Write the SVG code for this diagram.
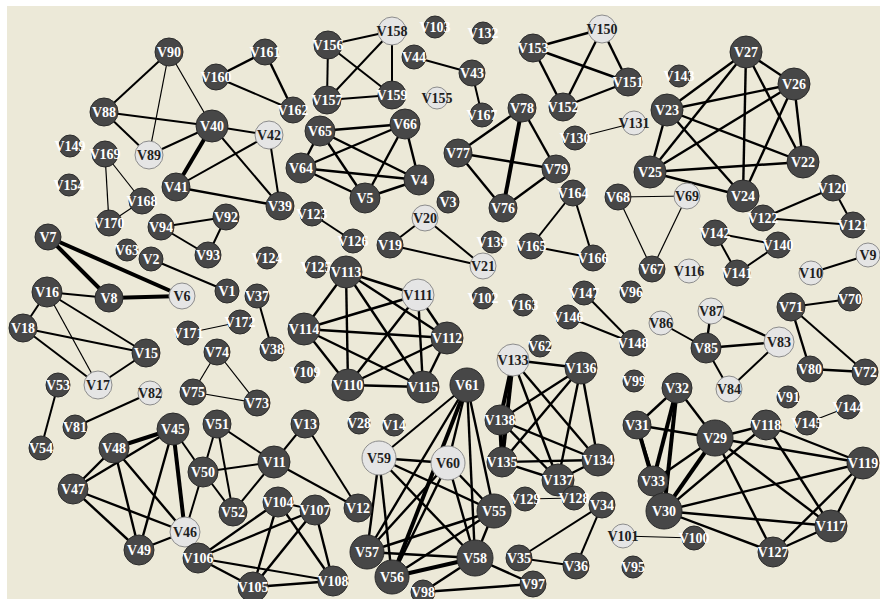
<svg xmlns="http://www.w3.org/2000/svg" width="880" height="599" viewBox="0 0 880 599">
<style>
.d circle{fill:#474747;stroke:#2b2b2b;stroke-width:1}
.l circle{fill:#e5e5e5;stroke:#8c8c8c;stroke-width:1}
text{font-family:"Liberation Serif","Times New Roman",serif;font-weight:bold;font-size:14px;text-anchor:middle;dominant-baseline:central}
.d text{fill:#ffffff}
.l text{fill:#1e1e1e}
#edges line{stroke:#000;stroke-width:2}
#edges line.m{stroke-width:2.4}
#edges line.k{stroke-width:4}
#edges line.t{stroke-width:1.2}
</style>
<rect x="0" y="0" width="880" height="599" fill="#ffffff"/>
<rect x="7" y="6" width="873" height="593" fill="#ece9d8"/>
<g id="edges">
<line x1="169" y1="52" x2="104" y2="112"/>
<line x1="169" y1="52" x2="149" y2="155" class="t"/>
<line x1="169" y1="52" x2="212" y2="126" class="t"/>
<line x1="104" y1="112" x2="212" y2="126"/>
<line x1="104" y1="112" x2="149" y2="155"/>
<line x1="149" y1="155" x2="212" y2="126"/>
<line x1="212" y1="126" x2="176" y2="187" class="k"/>
<line x1="212" y1="126" x2="280" y2="206"/>
<line x1="212" y1="126" x2="269" y2="135"/>
<line x1="269" y1="135" x2="176" y2="187"/>
<line x1="176" y1="187" x2="280" y2="206" class="m"/>
<line x1="269" y1="135" x2="280" y2="206"/>
<line x1="105" y1="154" x2="142" y2="201" class="t"/>
<line x1="105" y1="154" x2="109" y2="223" class="t"/>
<line x1="142" y1="201" x2="109" y2="223" class="t"/>
<line x1="216" y1="77" x2="265" y2="52" class="m"/>
<line x1="216" y1="77" x2="293" y2="110"/>
<line x1="265" y1="52" x2="293" y2="110" class="m"/>
<line x1="328" y1="45" x2="392" y2="31"/>
<line x1="328" y1="45" x2="327" y2="100"/>
<line x1="328" y1="45" x2="392" y2="95"/>
<line x1="392" y1="31" x2="327" y2="100"/>
<line x1="392" y1="31" x2="392" y2="95"/>
<line x1="327" y1="100" x2="392" y2="95"/>
<line x1="414" y1="57" x2="472" y2="73"/>
<line x1="472" y1="73" x2="482" y2="115"/>
<line x1="320" y1="131" x2="405" y2="124" class="m"/>
<line x1="320" y1="131" x2="301" y2="168" class="m"/>
<line x1="320" y1="131" x2="365" y2="198" class="m"/>
<line x1="320" y1="131" x2="419" y2="180" class="m"/>
<line x1="405" y1="124" x2="301" y2="168" class="m"/>
<line x1="405" y1="124" x2="365" y2="198" class="m"/>
<line x1="405" y1="124" x2="419" y2="180" class="m"/>
<line x1="301" y1="168" x2="419" y2="180" class="m"/>
<line x1="301" y1="168" x2="365" y2="198" class="m"/>
<line x1="365" y1="198" x2="419" y2="180" class="m"/>
<line x1="533" y1="48" x2="602" y2="29" class="m"/>
<line x1="533" y1="48" x2="628" y2="82" class="m"/>
<line x1="533" y1="48" x2="563" y2="107" class="m"/>
<line x1="602" y1="29" x2="563" y2="107" class="m"/>
<line x1="602" y1="29" x2="628" y2="82" class="m"/>
<line x1="563" y1="107" x2="628" y2="82" class="m"/>
<line x1="575" y1="138" x2="634" y2="123" class="t"/>
<line x1="522" y1="108" x2="458" y2="153" class="m"/>
<line x1="522" y1="108" x2="503" y2="208" class="k"/>
<line x1="522" y1="108" x2="556" y2="169" class="m"/>
<line x1="458" y1="153" x2="556" y2="169" class="m"/>
<line x1="458" y1="153" x2="503" y2="208" class="m"/>
<line x1="503" y1="208" x2="556" y2="169" class="m"/>
<line x1="746" y1="52" x2="667" y2="110" class="m"/>
<line x1="746" y1="52" x2="650" y2="172" class="m"/>
<line x1="746" y1="52" x2="743" y2="196" class="m"/>
<line x1="746" y1="52" x2="803" y2="162" class="m"/>
<line x1="746" y1="52" x2="794" y2="84" class="m"/>
<line x1="794" y1="84" x2="667" y2="110" class="m"/>
<line x1="794" y1="84" x2="650" y2="172" class="m"/>
<line x1="794" y1="84" x2="743" y2="196" class="m"/>
<line x1="794" y1="84" x2="803" y2="162" class="m"/>
<line x1="667" y1="110" x2="650" y2="172" class="m"/>
<line x1="667" y1="110" x2="743" y2="196" class="m"/>
<line x1="667" y1="110" x2="803" y2="162" class="m"/>
<line x1="650" y1="172" x2="803" y2="162" class="m"/>
<line x1="650" y1="172" x2="743" y2="196" class="m"/>
<line x1="618" y1="197" x2="687" y2="196" class="t"/>
<line x1="687" y1="196" x2="652" y2="269" class="t"/>
<line x1="618" y1="197" x2="652" y2="269" class="t"/>
<line x1="833" y1="188" x2="763" y2="218"/>
<line x1="833" y1="188" x2="853" y2="225"/>
<line x1="763" y1="218" x2="853" y2="225"/>
<line x1="715" y1="233" x2="778" y2="245"/>
<line x1="715" y1="233" x2="737" y2="273"/>
<line x1="778" y1="245" x2="737" y2="273"/>
<line x1="811" y1="273" x2="868" y2="255"/>
<line x1="573" y1="193" x2="531" y2="246"/>
<line x1="573" y1="193" x2="593" y2="258"/>
<line x1="531" y1="246" x2="593" y2="258"/>
<line x1="425" y1="218" x2="390" y2="245"/>
<line x1="425" y1="218" x2="483" y2="266"/>
<line x1="390" y1="245" x2="483" y2="266"/>
<line x1="312" y1="214" x2="353" y2="241"/>
<line x1="161" y1="227" x2="226" y2="217"/>
<line x1="161" y1="227" x2="208" y2="255"/>
<line x1="226" y1="217" x2="208" y2="255"/>
<line x1="48" y1="237" x2="109" y2="298" class="k"/>
<line x1="48" y1="237" x2="182" y2="296" class="k"/>
<line x1="109" y1="298" x2="182" y2="296" class="k"/>
<line x1="151" y1="259" x2="227" y2="291"/>
<line x1="47" y1="292" x2="109" y2="298"/>
<line x1="47" y1="292" x2="23" y2="328"/>
<line x1="47" y1="292" x2="146" y2="353"/>
<line x1="47" y1="292" x2="98" y2="385" class="t"/>
<line x1="23" y1="328" x2="146" y2="353"/>
<line x1="23" y1="328" x2="98" y2="385"/>
<line x1="146" y1="353" x2="98" y2="385"/>
<line x1="188" y1="333" x2="240" y2="322" class="t"/>
<line x1="257" y1="296" x2="272" y2="349"/>
<line x1="217" y1="352" x2="193" y2="392" class="t"/>
<line x1="217" y1="352" x2="257" y2="403" class="t"/>
<line x1="193" y1="392" x2="257" y2="403" class="t"/>
<line x1="346" y1="272" x2="418" y2="295" class="m"/>
<line x1="346" y1="272" x2="304" y2="329" class="m"/>
<line x1="346" y1="272" x2="447" y2="338" class="m"/>
<line x1="346" y1="272" x2="348" y2="385" class="m"/>
<line x1="346" y1="272" x2="423" y2="387" class="m"/>
<line x1="418" y1="295" x2="304" y2="329" class="m"/>
<line x1="418" y1="295" x2="447" y2="338" class="m"/>
<line x1="418" y1="295" x2="348" y2="385" class="m"/>
<line x1="418" y1="295" x2="423" y2="387" class="m"/>
<line x1="304" y1="329" x2="447" y2="338" class="m"/>
<line x1="304" y1="329" x2="348" y2="385" class="m"/>
<line x1="304" y1="329" x2="423" y2="387" class="m"/>
<line x1="447" y1="338" x2="348" y2="385" class="m"/>
<line x1="447" y1="338" x2="423" y2="387" class="m"/>
<line x1="348" y1="385" x2="423" y2="387" class="m"/>
<line x1="584" y1="293" x2="633" y2="343"/>
<line x1="568" y1="317" x2="633" y2="343"/>
<line x1="791" y1="307" x2="850" y2="299"/>
<line x1="791" y1="307" x2="810" y2="369" class="m"/>
<line x1="791" y1="307" x2="865" y2="372"/>
<line x1="810" y1="369" x2="865" y2="372" class="m"/>
<line x1="711" y1="311" x2="706" y2="348" class="m"/>
<line x1="711" y1="311" x2="779" y2="342" class="m"/>
<line x1="661" y1="323" x2="706" y2="348"/>
<line x1="706" y1="348" x2="779" y2="342" class="m"/>
<line x1="706" y1="348" x2="729" y2="389"/>
<line x1="729" y1="389" x2="779" y2="342"/>
<line x1="58" y1="385" x2="41" y2="448"/>
<line x1="75" y1="427" x2="150" y2="393"/>
<line x1="173" y1="429" x2="114" y2="448" class="k"/>
<line x1="173" y1="429" x2="73" y2="489" class="m"/>
<line x1="173" y1="429" x2="139" y2="550" class="m"/>
<line x1="173" y1="429" x2="185" y2="532" class="k"/>
<line x1="173" y1="429" x2="203" y2="472"/>
<line x1="114" y1="448" x2="73" y2="489" class="m"/>
<line x1="114" y1="448" x2="139" y2="550" class="m"/>
<line x1="114" y1="448" x2="185" y2="532" class="m"/>
<line x1="73" y1="489" x2="139" y2="550" class="m"/>
<line x1="73" y1="489" x2="185" y2="532" class="m"/>
<line x1="139" y1="550" x2="185" y2="532" class="m"/>
<line x1="203" y1="472" x2="185" y2="532"/>
<line x1="217" y1="424" x2="203" y2="472"/>
<line x1="217" y1="424" x2="233" y2="512"/>
<line x1="203" y1="472" x2="233" y2="512"/>
<line x1="203" y1="472" x2="274" y2="462"/>
<line x1="217" y1="424" x2="274" y2="462"/>
<line x1="274" y1="462" x2="233" y2="512"/>
<line x1="274" y1="462" x2="305" y2="424"/>
<line x1="274" y1="462" x2="358" y2="508"/>
<line x1="305" y1="424" x2="358" y2="508"/>
<line x1="198" y1="558" x2="278" y2="502" class="m"/>
<line x1="198" y1="558" x2="315" y2="510" class="m"/>
<line x1="198" y1="558" x2="253" y2="587" class="m"/>
<line x1="198" y1="558" x2="333" y2="581"/>
<line x1="278" y1="502" x2="315" y2="510"/>
<line x1="278" y1="502" x2="253" y2="587" class="m"/>
<line x1="278" y1="502" x2="333" y2="581" class="m"/>
<line x1="315" y1="510" x2="253" y2="587" class="m"/>
<line x1="315" y1="510" x2="333" y2="581" class="m"/>
<line x1="253" y1="587" x2="333" y2="581" class="m"/>
<line x1="379" y1="458" x2="467" y2="385"/>
<line x1="379" y1="458" x2="448" y2="463" class="m"/>
<line x1="379" y1="458" x2="367" y2="552" class="m"/>
<line x1="379" y1="458" x2="392" y2="577" class="m"/>
<line x1="379" y1="458" x2="494" y2="511" class="m"/>
<line x1="379" y1="458" x2="475" y2="558" class="m"/>
<line x1="448" y1="463" x2="467" y2="385" class="m"/>
<line x1="448" y1="463" x2="367" y2="552" class="m"/>
<line x1="448" y1="463" x2="392" y2="577" class="m"/>
<line x1="448" y1="463" x2="494" y2="511" class="m"/>
<line x1="448" y1="463" x2="475" y2="558" class="m"/>
<line x1="467" y1="385" x2="367" y2="552" class="m"/>
<line x1="467" y1="385" x2="392" y2="577" class="k"/>
<line x1="467" y1="385" x2="494" y2="511" class="m"/>
<line x1="467" y1="385" x2="475" y2="558" class="m"/>
<line x1="367" y1="552" x2="494" y2="511" class="m"/>
<line x1="367" y1="552" x2="475" y2="558" class="m"/>
<line x1="392" y1="577" x2="494" y2="511" class="m"/>
<line x1="392" y1="577" x2="475" y2="558" class="k"/>
<line x1="494" y1="511" x2="475" y2="558" class="m"/>
<line x1="475" y1="558" x2="533" y2="584" class="m"/>
<line x1="475" y1="558" x2="423" y2="592" class="m"/>
<line x1="423" y1="592" x2="533" y2="584" class="m"/>
<line x1="513" y1="360" x2="581" y2="368" class="m"/>
<line x1="513" y1="360" x2="500" y2="420" class="k"/>
<line x1="513" y1="360" x2="502" y2="462" class="k"/>
<line x1="513" y1="360" x2="558" y2="480" class="m"/>
<line x1="513" y1="360" x2="598" y2="460" class="m"/>
<line x1="581" y1="368" x2="500" y2="420" class="m"/>
<line x1="581" y1="368" x2="502" y2="462" class="m"/>
<line x1="581" y1="368" x2="558" y2="480" class="m"/>
<line x1="581" y1="368" x2="598" y2="460" class="m"/>
<line x1="500" y1="420" x2="502" y2="462" class="k"/>
<line x1="500" y1="420" x2="558" y2="480" class="m"/>
<line x1="500" y1="420" x2="598" y2="460" class="m"/>
<line x1="502" y1="462" x2="598" y2="460" class="m"/>
<line x1="502" y1="462" x2="558" y2="480" class="m"/>
<line x1="558" y1="480" x2="598" y2="460" class="m"/>
<line x1="525" y1="499" x2="574" y2="498" class="t"/>
<line x1="602" y1="505" x2="519" y2="558"/>
<line x1="602" y1="505" x2="576" y2="566"/>
<line x1="519" y1="558" x2="576" y2="566"/>
<line x1="677" y1="388" x2="637" y2="425" class="m"/>
<line x1="677" y1="388" x2="653" y2="481" class="k"/>
<line x1="677" y1="388" x2="664" y2="511" class="k"/>
<line x1="677" y1="388" x2="715" y2="438" class="m"/>
<line x1="637" y1="425" x2="715" y2="438" class="m"/>
<line x1="637" y1="425" x2="653" y2="481" class="k"/>
<line x1="637" y1="425" x2="664" y2="511" class="m"/>
<line x1="715" y1="438" x2="766" y2="425" class="m"/>
<line x1="715" y1="438" x2="863" y2="463" class="m"/>
<line x1="715" y1="438" x2="831" y2="526" class="m"/>
<line x1="715" y1="438" x2="773" y2="552" class="m"/>
<line x1="715" y1="438" x2="664" y2="511" class="k"/>
<line x1="715" y1="438" x2="653" y2="481" class="m"/>
<line x1="766" y1="425" x2="863" y2="463" class="m"/>
<line x1="766" y1="425" x2="831" y2="526" class="m"/>
<line x1="766" y1="425" x2="664" y2="511" class="m"/>
<line x1="664" y1="511" x2="863" y2="463" class="m"/>
<line x1="664" y1="511" x2="831" y2="526" class="m"/>
<line x1="664" y1="511" x2="773" y2="552" class="m"/>
<line x1="653" y1="481" x2="664" y2="511" class="m"/>
<line x1="863" y1="463" x2="831" y2="526" class="m"/>
<line x1="863" y1="463" x2="773" y2="552" class="m"/>
<line x1="831" y1="526" x2="773" y2="552" class="m"/>
<line x1="623" y1="536" x2="694" y2="538" class="t"/>
<line x1="807" y1="423" x2="848" y2="407" class="t"/>
</g>
<g id="V90" class="d"><circle cx="169" cy="52" r="14"/><text x="169" y="52">V90</text></g>
<g id="V88" class="d"><circle cx="104" cy="112" r="14"/><text x="104" y="112">V88</text></g>
<g id="V89" class="l"><circle cx="149" cy="155" r="14"/><text x="149" y="155">V89</text></g>
<g id="V40" class="d"><circle cx="212" cy="126" r="16"/><text x="212" y="126">V40</text></g>
<g id="V149" class="d"><circle cx="70" cy="146" r="11"/><text x="70" y="146">V149</text></g>
<g id="V169" class="d"><circle cx="105" cy="154" r="13"/><text x="105" y="154">V169</text></g>
<g id="V154" class="d"><circle cx="69" cy="185" r="11"/><text x="69" y="185">V154</text></g>
<g id="V41" class="d"><circle cx="176" cy="187" r="14"/><text x="176" y="187">V41</text></g>
<g id="V168" class="d"><circle cx="142" cy="201" r="13"/><text x="142" y="201">V168</text></g>
<g id="V160" class="d"><circle cx="216" cy="77" r="13"/><text x="216" y="77">V160</text></g>
<g id="V161" class="d"><circle cx="265" cy="52" r="13"/><text x="265" y="52">V161</text></g>
<g id="V162" class="d"><circle cx="293" cy="110" r="13"/><text x="293" y="110">V162</text></g>
<g id="V42" class="l"><circle cx="269" cy="135" r="14"/><text x="269" y="135">V42</text></g>
<g id="V39" class="d"><circle cx="280" cy="206" r="14"/><text x="280" y="206">V39</text></g>
<g id="V156" class="d"><circle cx="328" cy="45" r="14"/><text x="328" y="45">V156</text></g>
<g id="V158" class="l"><circle cx="392" cy="31" r="14"/><text x="392" y="31">V158</text></g>
<g id="V157" class="d"><circle cx="327" cy="100" r="14"/><text x="327" y="100">V157</text></g>
<g id="V159" class="d"><circle cx="392" cy="95" r="14"/><text x="392" y="95">V159</text></g>
<g id="V44" class="d"><circle cx="414" cy="57" r="12"/><text x="414" y="57">V44</text></g>
<g id="V103" class="d"><circle cx="435" cy="27" r="11"/><text x="435" y="27">V103</text></g>
<g id="V132" class="d"><circle cx="483" cy="33" r="11"/><text x="483" y="33">V132</text></g>
<g id="V43" class="d"><circle cx="472" cy="73" r="13"/><text x="472" y="73">V43</text></g>
<g id="V155" class="l"><circle cx="437" cy="98" r="11"/><text x="437" y="98">V155</text></g>
<g id="V167" class="d"><circle cx="482" cy="115" r="12"/><text x="482" y="115">V167</text></g>
<g id="V65" class="d"><circle cx="320" cy="131" r="15"/><text x="320" y="131">V65</text></g>
<g id="V66" class="d"><circle cx="405" cy="124" r="15"/><text x="405" y="124">V66</text></g>
<g id="V64" class="d"><circle cx="301" cy="168" r="15"/><text x="301" y="168">V64</text></g>
<g id="V4" class="d"><circle cx="419" cy="180" r="15"/><text x="419" y="180">V4</text></g>
<g id="V5" class="d"><circle cx="365" cy="198" r="15"/><text x="365" y="198">V5</text></g>
<g id="V153" class="d"><circle cx="533" cy="48" r="14"/><text x="533" y="48">V153</text></g>
<g id="V150" class="l"><circle cx="602" cy="29" r="14"/><text x="602" y="29">V150</text></g>
<g id="V151" class="d"><circle cx="628" cy="82" r="14"/><text x="628" y="82">V151</text></g>
<g id="V152" class="d"><circle cx="563" cy="107" r="14"/><text x="563" y="107">V152</text></g>
<g id="V78" class="d"><circle cx="522" cy="108" r="14"/><text x="522" y="108">V78</text></g>
<g id="V130" class="d"><circle cx="575" cy="138" r="12"/><text x="575" y="138">V130</text></g>
<g id="V131" class="l"><circle cx="634" cy="123" r="12"/><text x="634" y="123">V131</text></g>
<g id="V77" class="d"><circle cx="458" cy="153" r="14"/><text x="458" y="153">V77</text></g>
<g id="V79" class="d"><circle cx="556" cy="169" r="14"/><text x="556" y="169">V79</text></g>
<g id="V76" class="d"><circle cx="503" cy="208" r="14"/><text x="503" y="208">V76</text></g>
<g id="V3" class="d"><circle cx="448" cy="202" r="11"/><text x="448" y="202">V3</text></g>
<g id="V164" class="d"><circle cx="573" cy="193" r="13"/><text x="573" y="193">V164</text></g>
<g id="V68" class="d"><circle cx="618" cy="197" r="13"/><text x="618" y="197">V68</text></g>
<g id="V143" class="d"><circle cx="679" cy="76" r="11"/><text x="679" y="76">V143</text></g>
<g id="V27" class="d"><circle cx="746" cy="52" r="16"/><text x="746" y="52">V27</text></g>
<g id="V26" class="d"><circle cx="794" cy="84" r="16"/><text x="794" y="84">V26</text></g>
<g id="V23" class="d"><circle cx="667" cy="110" r="16"/><text x="667" y="110">V23</text></g>
<g id="V22" class="d"><circle cx="803" cy="162" r="16"/><text x="803" y="162">V22</text></g>
<g id="V25" class="d"><circle cx="650" cy="172" r="16"/><text x="650" y="172">V25</text></g>
<g id="V24" class="d"><circle cx="743" cy="196" r="16"/><text x="743" y="196">V24</text></g>
<g id="V69" class="l"><circle cx="687" cy="196" r="13"/><text x="687" y="196">V69</text></g>
<g id="V120" class="d"><circle cx="833" cy="188" r="13"/><text x="833" y="188">V120</text></g>
<g id="V122" class="d"><circle cx="763" cy="218" r="13"/><text x="763" y="218">V122</text></g>
<g id="V121" class="d"><circle cx="853" cy="225" r="13"/><text x="853" y="225">V121</text></g>
<g id="V142" class="d"><circle cx="715" cy="233" r="13"/><text x="715" y="233">V142</text></g>
<g id="V140" class="d"><circle cx="778" cy="245" r="13"/><text x="778" y="245">V140</text></g>
<g id="V141" class="d"><circle cx="737" cy="273" r="13"/><text x="737" y="273">V141</text></g>
<g id="V67" class="d"><circle cx="652" cy="269" r="13"/><text x="652" y="269">V67</text></g>
<g id="V116" class="l"><circle cx="689" cy="271" r="12"/><text x="689" y="271">V116</text></g>
<g id="V10" class="l"><circle cx="811" cy="273" r="12"/><text x="811" y="273">V10</text></g>
<g id="V9" class="l"><circle cx="868" cy="255" r="12"/><text x="868" y="255">V9</text></g>
<g id="V170" class="d"><circle cx="109" cy="223" r="13"/><text x="109" y="223">V170</text></g>
<g id="V94" class="d"><circle cx="161" cy="227" r="13"/><text x="161" y="227">V94</text></g>
<g id="V92" class="d"><circle cx="226" cy="217" r="13"/><text x="226" y="217">V92</text></g>
<g id="V93" class="d"><circle cx="208" cy="255" r="13"/><text x="208" y="255">V93</text></g>
<g id="V7" class="d"><circle cx="48" cy="237" r="13"/><text x="48" y="237">V7</text></g>
<g id="V63" class="d"><circle cx="127" cy="250" r="11"/><text x="127" y="250">V63</text></g>
<g id="V2" class="d"><circle cx="151" cy="259" r="12"/><text x="151" y="259">V2</text></g>
<g id="V16" class="d"><circle cx="47" cy="292" r="15"/><text x="47" y="292">V16</text></g>
<g id="V8" class="d"><circle cx="109" cy="298" r="14"/><text x="109" y="298">V8</text></g>
<g id="V6" class="l"><circle cx="182" cy="296" r="13"/><text x="182" y="296">V6</text></g>
<g id="V1" class="d"><circle cx="227" cy="291" r="12"/><text x="227" y="291">V1</text></g>
<g id="V18" class="d"><circle cx="23" cy="328" r="14"/><text x="23" y="328">V18</text></g>
<g id="V15" class="d"><circle cx="146" cy="353" r="14"/><text x="146" y="353">V15</text></g>
<g id="V171" class="d"><circle cx="188" cy="333" r="12"/><text x="188" y="333">V171</text></g>
<g id="V74" class="d"><circle cx="217" cy="352" r="13"/><text x="217" y="352">V74</text></g>
<g id="V53" class="d"><circle cx="58" cy="385" r="12"/><text x="58" y="385">V53</text></g>
<g id="V17" class="l"><circle cx="98" cy="385" r="14"/><text x="98" y="385">V17</text></g>
<g id="V82" class="l"><circle cx="150" cy="393" r="12"/><text x="150" y="393">V82</text></g>
<g id="V75" class="d"><circle cx="193" cy="392" r="13"/><text x="193" y="392">V75</text></g>
<g id="V73" class="d"><circle cx="257" cy="403" r="13"/><text x="257" y="403">V73</text></g>
<g id="V123" class="d"><circle cx="312" cy="214" r="12"/><text x="312" y="214">V123</text></g>
<g id="V126" class="d"><circle cx="353" cy="241" r="12"/><text x="353" y="241">V126</text></g>
<g id="V19" class="d"><circle cx="390" cy="245" r="13"/><text x="390" y="245">V19</text></g>
<g id="V20" class="l"><circle cx="425" cy="218" r="13"/><text x="425" y="218">V20</text></g>
<g id="V124" class="d"><circle cx="267" cy="258" r="11"/><text x="267" y="258">V124</text></g>
<g id="V125" class="d"><circle cx="316" cy="267" r="11"/><text x="316" y="267">V125</text></g>
<g id="V113" class="d"><circle cx="346" cy="272" r="16"/><text x="346" y="272">V113</text></g>
<g id="V111" class="l"><circle cx="418" cy="295" r="16"/><text x="418" y="295">V111</text></g>
<g id="V37" class="d"><circle cx="257" cy="296" r="12"/><text x="257" y="296">V37</text></g>
<g id="V172" class="d"><circle cx="240" cy="322" r="12"/><text x="240" y="322">V172</text></g>
<g id="V114" class="d"><circle cx="304" cy="329" r="16"/><text x="304" y="329">V114</text></g>
<g id="V112" class="d"><circle cx="447" cy="338" r="16"/><text x="447" y="338">V112</text></g>
<g id="V38" class="d"><circle cx="272" cy="349" r="12"/><text x="272" y="349">V38</text></g>
<g id="V109" class="d"><circle cx="305" cy="372" r="11"/><text x="305" y="372">V109</text></g>
<g id="V110" class="d"><circle cx="348" cy="385" r="16"/><text x="348" y="385">V110</text></g>
<g id="V115" class="d"><circle cx="423" cy="387" r="16"/><text x="423" y="387">V115</text></g>
<g id="V139" class="d"><circle cx="492" cy="242" r="11"/><text x="492" y="242">V139</text></g>
<g id="V165" class="d"><circle cx="531" cy="246" r="13"/><text x="531" y="246">V165</text></g>
<g id="V166" class="d"><circle cx="593" cy="258" r="13"/><text x="593" y="258">V166</text></g>
<g id="V21" class="l"><circle cx="483" cy="266" r="13"/><text x="483" y="266">V21</text></g>
<g id="V102" class="d"><circle cx="483" cy="298" r="11"/><text x="483" y="298">V102</text></g>
<g id="V163" class="d"><circle cx="523" cy="305" r="11"/><text x="523" y="305">V163</text></g>
<g id="V147" class="d"><circle cx="584" cy="293" r="12"/><text x="584" y="293">V147</text></g>
<g id="V96" class="d"><circle cx="631" cy="292" r="11"/><text x="631" y="292">V96</text></g>
<g id="V146" class="d"><circle cx="568" cy="317" r="12"/><text x="568" y="317">V146</text></g>
<g id="V148" class="d"><circle cx="633" cy="343" r="13"/><text x="633" y="343">V148</text></g>
<g id="V62" class="d"><circle cx="540" cy="346" r="11"/><text x="540" y="346">V62</text></g>
<g id="V133" class="l"><circle cx="513" cy="360" r="16"/><text x="513" y="360">V133</text></g>
<g id="V136" class="d"><circle cx="581" cy="368" r="16"/><text x="581" y="368">V136</text></g>
<g id="V99" class="d"><circle cx="634" cy="381" r="11"/><text x="634" y="381">V99</text></g>
<g id="V61" class="d"><circle cx="467" cy="385" r="17"/><text x="467" y="385">V61</text></g>
<g id="V71" class="d"><circle cx="791" cy="307" r="14"/><text x="791" y="307">V71</text></g>
<g id="V70" class="d"><circle cx="850" cy="299" r="12"/><text x="850" y="299">V70</text></g>
<g id="V87" class="l"><circle cx="711" cy="311" r="13"/><text x="711" y="311">V87</text></g>
<g id="V86" class="l"><circle cx="661" cy="323" r="12"/><text x="661" y="323">V86</text></g>
<g id="V85" class="d"><circle cx="706" cy="348" r="15"/><text x="706" y="348">V85</text></g>
<g id="V83" class="l"><circle cx="779" cy="342" r="15"/><text x="779" y="342">V83</text></g>
<g id="V80" class="d"><circle cx="810" cy="369" r="13"/><text x="810" y="369">V80</text></g>
<g id="V72" class="d"><circle cx="865" cy="372" r="13"/><text x="865" y="372">V72</text></g>
<g id="V84" class="l"><circle cx="729" cy="389" r="13"/><text x="729" y="389">V84</text></g>
<g id="V32" class="d"><circle cx="677" cy="388" r="15"/><text x="677" y="388">V32</text></g>
<g id="V91" class="d"><circle cx="788" cy="397" r="11"/><text x="788" y="397">V91</text></g>
<g id="V144" class="d"><circle cx="848" cy="407" r="12"/><text x="848" y="407">V144</text></g>
<g id="V145" class="d"><circle cx="807" cy="423" r="12"/><text x="807" y="423">V145</text></g>
<g id="V54" class="d"><circle cx="41" cy="448" r="12"/><text x="41" y="448">V54</text></g>
<g id="V81" class="d"><circle cx="75" cy="427" r="12"/><text x="75" y="427">V81</text></g>
<g id="V45" class="d"><circle cx="173" cy="429" r="16"/><text x="173" y="429">V45</text></g>
<g id="V51" class="d"><circle cx="217" cy="424" r="14"/><text x="217" y="424">V51</text></g>
<g id="V48" class="d"><circle cx="114" cy="448" r="15"/><text x="114" y="448">V48</text></g>
<g id="V50" class="d"><circle cx="203" cy="472" r="15"/><text x="203" y="472">V50</text></g>
<g id="V47" class="d"><circle cx="73" cy="489" r="15"/><text x="73" y="489">V47</text></g>
<g id="V52" class="d"><circle cx="233" cy="512" r="14"/><text x="233" y="512">V52</text></g>
<g id="V46" class="l"><circle cx="185" cy="532" r="15"/><text x="185" y="532">V46</text></g>
<g id="V49" class="d"><circle cx="139" cy="550" r="15"/><text x="139" y="550">V49</text></g>
<g id="V106" class="d"><circle cx="198" cy="558" r="15"/><text x="198" y="558">V106</text></g>
<g id="V13" class="d"><circle cx="305" cy="424" r="14"/><text x="305" y="424">V13</text></g>
<g id="V28" class="d"><circle cx="359" cy="423" r="11"/><text x="359" y="423">V28</text></g>
<g id="V14" class="d"><circle cx="394" cy="425" r="11"/><text x="394" y="425">V14</text></g>
<g id="V11" class="d"><circle cx="274" cy="462" r="16"/><text x="274" y="462">V11</text></g>
<g id="V59" class="l"><circle cx="379" cy="458" r="17"/><text x="379" y="458">V59</text></g>
<g id="V60" class="l"><circle cx="448" cy="463" r="17"/><text x="448" y="463">V60</text></g>
<g id="V104" class="d"><circle cx="278" cy="502" r="15"/><text x="278" y="502">V104</text></g>
<g id="V107" class="d"><circle cx="315" cy="510" r="15"/><text x="315" y="510">V107</text></g>
<g id="V12" class="d"><circle cx="358" cy="508" r="14"/><text x="358" y="508">V12</text></g>
<g id="V57" class="d"><circle cx="367" cy="552" r="17"/><text x="367" y="552">V57</text></g>
<g id="V56" class="d"><circle cx="392" cy="577" r="17"/><text x="392" y="577">V56</text></g>
<g id="V108" class="d"><circle cx="333" cy="581" r="15"/><text x="333" y="581">V108</text></g>
<g id="V105" class="d"><circle cx="253" cy="587" r="15"/><text x="253" y="587">V105</text></g>
<g id="V98" class="d"><circle cx="423" cy="592" r="12"/><text x="423" y="592">V98</text></g>
<g id="V138" class="d"><circle cx="500" cy="420" r="15"/><text x="500" y="420">V138</text></g>
<g id="V135" class="d"><circle cx="502" cy="462" r="15"/><text x="502" y="462">V135</text></g>
<g id="V134" class="d"><circle cx="598" cy="460" r="16"/><text x="598" y="460">V134</text></g>
<g id="V137" class="d"><circle cx="558" cy="480" r="16"/><text x="558" y="480">V137</text></g>
<g id="V129" class="d"><circle cx="525" cy="499" r="12"/><text x="525" y="499">V129</text></g>
<g id="V128" class="d"><circle cx="574" cy="498" r="12"/><text x="574" y="498">V128</text></g>
<g id="V34" class="d"><circle cx="602" cy="505" r="13"/><text x="602" y="505">V34</text></g>
<g id="V55" class="d"><circle cx="494" cy="511" r="17"/><text x="494" y="511">V55</text></g>
<g id="V31" class="d"><circle cx="637" cy="425" r="14"/><text x="637" y="425">V31</text></g>
<g id="V101" class="l"><circle cx="623" cy="536" r="12"/><text x="623" y="536">V101</text></g>
<g id="V58" class="d"><circle cx="475" cy="558" r="18"/><text x="475" y="558">V58</text></g>
<g id="V35" class="d"><circle cx="519" cy="558" r="13"/><text x="519" y="558">V35</text></g>
<g id="V36" class="d"><circle cx="576" cy="566" r="13"/><text x="576" y="566">V36</text></g>
<g id="V95" class="d"><circle cx="633" cy="567" r="11"/><text x="633" y="567">V95</text></g>
<g id="V97" class="d"><circle cx="533" cy="584" r="13"/><text x="533" y="584">V97</text></g>
<g id="V118" class="d"><circle cx="766" cy="425" r="15"/><text x="766" y="425">V118</text></g>
<g id="V29" class="d"><circle cx="715" cy="438" r="18"/><text x="715" y="438">V29</text></g>
<g id="V119" class="d"><circle cx="863" cy="463" r="16"/><text x="863" y="463">V119</text></g>
<g id="V33" class="d"><circle cx="653" cy="481" r="15"/><text x="653" y="481">V33</text></g>
<g id="V30" class="d"><circle cx="664" cy="511" r="18"/><text x="664" y="511">V30</text></g>
<g id="V117" class="d"><circle cx="831" cy="526" r="16"/><text x="831" y="526">V117</text></g>
<g id="V100" class="d"><circle cx="694" cy="538" r="12"/><text x="694" y="538">V100</text></g>
<g id="V127" class="d"><circle cx="773" cy="552" r="15"/><text x="773" y="552">V127</text></g>
</svg>
